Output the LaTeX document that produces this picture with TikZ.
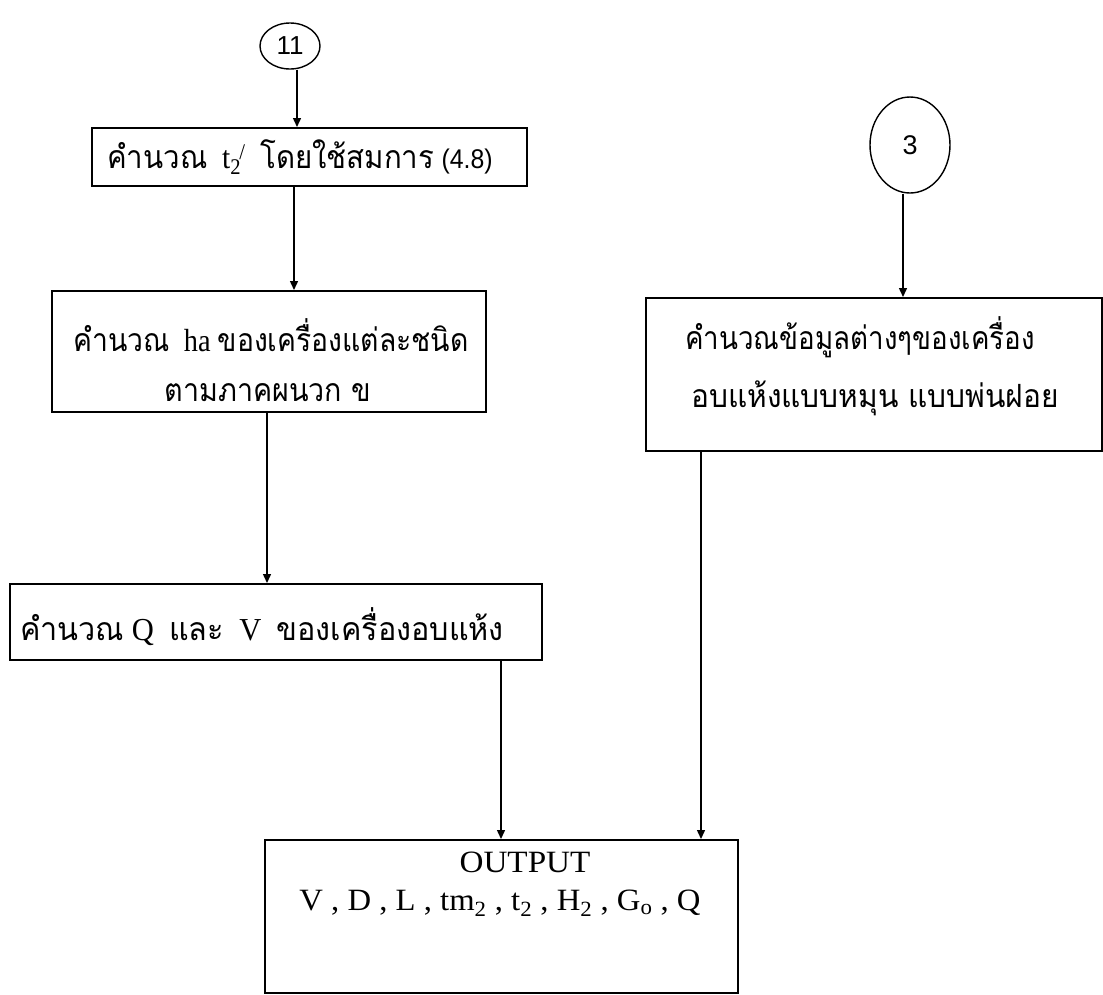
\documentclass[tikz,border=0pt]{standalone}
\usepackage{fontspec}
\setmainfont{Liberation Serif}
\newfontfamily\thai[Script=Thai]{Loma}
\newfontfamily\sansf{Liberation Sans}
\usetikzlibrary{shapes.geometric,arrows.meta}
\begin{document}
\begin{tikzpicture}[x=1pt,y=-1pt,
  boxn/.style={draw,line width=1.6pt,inner sep=0pt,anchor=north west},
  circn/.style={draw,ellipse,line width=1.4pt,inner sep=0pt},
  arr/.style={line width=1.4pt,-{Triangle[length=9pt,width=8pt]}},
  ln/.style={inner sep=0pt,font=\fontsize{32}{36}\selectfont},
  lat/.style={inner sep=0pt,font=\fontsize{31}{36}\selectfont},
]
\useasboundingbox (0,0) rectangle (1103,994);
% connector circles
\node[circn,minimum width=60pt,minimum height=46pt,font=\sansf\fontsize{26}{28}\selectfont] (c11) at (290,46) {11};
\node[circn,minimum width=80pt,minimum height=96pt,font=\sansf\fontsize{27}{29}\selectfont] (c3) at (910,145) {3};
% boxes
\node[boxn,minimum width=435pt,minimum height=58pt] (b1) at (91,127) {};
\node[boxn,minimum width=434pt,minimum height=121pt] (b2) at (51,290) {};
\node[boxn,minimum width=532pt,minimum height=76pt] (b3) at (9,583) {};
\node[boxn,minimum width=456pt,minimum height=153pt] (b4) at (645,297) {};
\node[boxn,minimum width=473pt,minimum height=153pt] (out) at (264,839) {};
% texts
\node[ln] (t1) at (300,157) {\scalebox{0.92}[1]{{\thai คำนวณ}\ \ t\textsubscript{2}\kern-2pt\textsuperscript{/}\ \ {\thai โดยใช้สมการ} {\sansf\fontsize{27}{29}\selectfont (4.8)}}};
\node[ln] (t2a) at (271,335) {\scalebox{0.885}[1]{{\thai คำนวณ}\ \ ha {\thai ของเครื่องแต่ละชนิด}}};
\node[ln] (t2b) at (268,393) {\scalebox{0.895}[1]{\thai ตามภาคผนวก ข}};
\node[ln] (t3) at (262,627) {\scalebox{0.955}[1]{{\thai คำนวณ} Q\ \ {\thai และ}\ \ V\ \ {\thai ของเครื่องอบแห้ง}}};
\node[ln] (t4a) at (860,337) {\scalebox{0.866}[1]{\thai คำนวณข้อมูลต่างๆของเครื่อง}};
\node[ln] (t4b) at (875,398) {\scalebox{0.933}[1]{\thai อบแห้งแบบหมุน แบบพ่นฝอย}};
\node[lat] (o1) at (525,862) {\scalebox{1.07}[1]{OUTPUT}};
\node[lat] (o2) at (500,903) {\scalebox{1.055}[1]{V , D , L , tm\textsubscript{2} , t\textsubscript{2} , H\textsubscript{2} , G\textsubscript{o} , Q}};
% arrow x positions
\coordinate (xa) at (297,0);
\coordinate (xb) at (294,0);
\coordinate (xc) at (267,0);
\coordinate (xd) at (501,0);
\coordinate (xe) at (903,0);
\coordinate (xf) at (701,0);
\draw[arr] (c11.south -| xa) -- (b1.north -| xa);
\draw[arr] (b1.south -| xb) -- (b2.north -| xb);
\draw[arr] (b2.south -| xc) -- (b3.north -| xc);
\draw[arr] (b3.south -| xd) -- (out.north -| xd);
\draw[arr] (c3.south -| xe) -- (b4.north -| xe);
\draw[arr] (b4.south -| xf) -- (out.north -| xf);
\end{tikzpicture}
\end{document}
